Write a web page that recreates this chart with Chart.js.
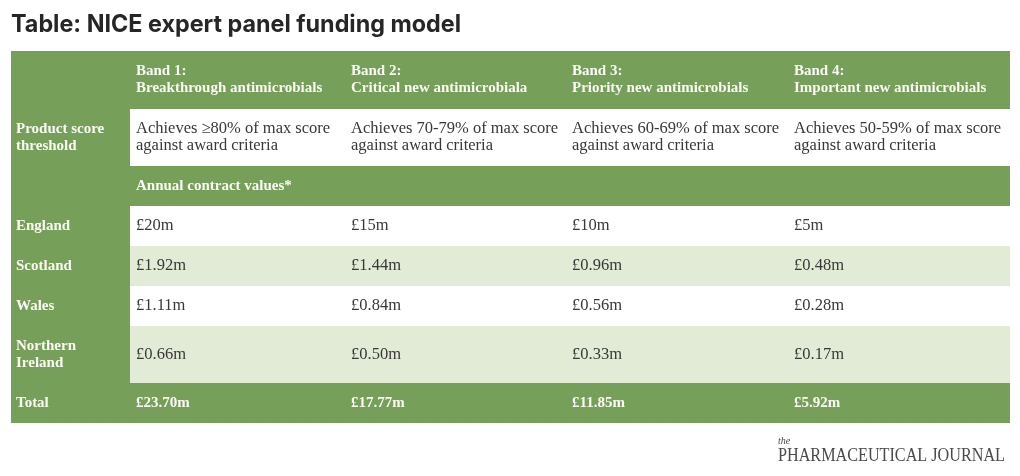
<!DOCTYPE html>
<html>
<head>
<meta charset="utf-8">
<title>NICE expert panel funding model</title>
<script src="https://cdn.jsdelivr.net/npm/chart.js@4.4.1/dist/chart.umd.min.js"></script>
<style>
  html, body { margin: 0; padding: 0; background: #fff; }
  canvas { display: block; }
</style>
</head>
<body>
<canvas id="tableChart" width="1020" height="476"></canvas>
<script>
// --- data ---
const title = 'Table: NICE expert panel funding model';
const bandLabels = ['Band 1:', 'Band 2:', 'Band 3:', 'Band 4:'];
const bandNames = ['Breakthrough antimicrobials', 'Critical new antimicrobiala', 'Priority new antimicrobials', 'Important new antimicrobials'];
const thresholds = ['≥80%', '70-79%', '60-69%', '50-59%'];
const nations = ['England', 'Scotland', 'Wales', 'Northern Ireland'];
const england = [20, 15, 10, 5];
const scotland = [1.92, 1.44, 0.96, 0.48];
const wales = [1.11, 0.84, 0.56, 0.28];
const northernIreland = [0.66, 0.50, 0.33, 0.17];
const totals = [23.70, 17.77, 11.85, 5.92];

// --- layout (table units, mapped through the chart scales) ---
const colWidths = [119, 215, 221, 222, 222];
const rowHeights = [58, 57, 40, 40, 40, 40, 57, 40];

const GREEN = '#76a05a';
const LIGHT = '#e1ebd6';
const TEXT = '#383838';
const HEAD_FONT = 'bold 15px "Liberation Serif", serif';
const BODY_FONT = '16.5px "Liberation Serif", serif';
const LINE = 17;

const money = v => '£' + (Number.isInteger(v) ? v : v.toFixed(2)) + 'm';

const nationValues = [england, scotland, wales, northernIreland];

// rows: label column text, cell texts, fill, whether cells are bold/white
const rows = [
    { label: [], cells: bandLabels.map((b, i) => [b, bandNames[i]]), fill: GREEN, head: true },
    { label: ['Product score', 'threshold'], cells: thresholds.map(t => ['Achieves ' + t + ' of max score', 'against award criteria']), fill: '#fff' },
    { label: [], cells: [['Annual contract values*'], [], [], []], fill: GREEN, head: true },
    ...nations.map((n, i) => ({
        label: n === 'Northern Ireland' ? ['Northern', 'Ireland'] : [n],
        cells: nationValues[i].map(v => [money(v)]),
        fill: i % 2 ? LIGHT : '#fff'
    })),
    { label: ['Total'], cells: totals.map(v => [money(v)]), fill: GREEN, head: true }
];

function cumulative(arr) {
    const out = [0];
    arr.forEach(v => out.push(out[out.length - 1] + v));
    return out;
}

const tablePlugin = {
    id: 'tableCells',
    afterDraw(chart) {
        const { ctx, scales: { x, y } } = chart;
        const colEdges = cumulative(colWidths).map(v => Math.round(x.getPixelForValue(v)));
        const rowEdges = cumulative(rowHeights).map(v => Math.round(y.getPixelForValue(v)));

        ctx.save();
        ctx.textBaseline = 'middle';
        ctx.textAlign = 'left';

        rows.forEach((row, r) => {
            const top = rowEdges[r], bottom = rowEdges[r + 1];
            const mid = (top + bottom) / 2;

            // row background, then the green label column on top
            ctx.fillStyle = row.fill;
            ctx.fillRect(colEdges[0], top, colEdges[5] - colEdges[0], bottom - top);
            ctx.fillStyle = GREEN;
            ctx.fillRect(colEdges[0], top, colEdges[1] - colEdges[0], bottom - top);

            const drawLines = (lines, x0, font, color) => {
                ctx.font = font;
                ctx.fillStyle = color;
                const start = mid - (lines.length - 1) * LINE / 2;
                lines.forEach((t, k) => ctx.fillText(t, x0, start + k * LINE));
            };

            drawLines(row.label, colEdges[0] + 5, HEAD_FONT, '#fbfaf5');
            row.cells.forEach((lines, c) => {
                drawLines(lines, colEdges[c + 1] + 6,
                    row.head ? HEAD_FONT : BODY_FONT,
                    row.head ? '#fbfaf5' : TEXT);
            });
        });

        // title
        ctx.textBaseline = 'alphabetic';
        ctx.font = 'bold 24px Inter, sans-serif';
        ctx.fillStyle = '#262626';
        ctx.fillText(title, 11, 32, 450);

        // logo
        ctx.fillStyle = '#4a4a4a';
        ctx.font = 'italic 10px "Liberation Serif", serif';
        ctx.fillText('the', 778, 444);
        ctx.font = '18px "Liberation Serif", serif';
        ctx.fillText('PHARMACEUTICAL JOURNAL', 778, 461, 227);
        ctx.restore();
    }
};

new Chart(document.getElementById('tableChart'), {
    type: 'bar',
    data: { labels: [], datasets: [] },
    options: {
        responsive: false,
        animation: false,
        layout: { padding: { left: 11, right: 10, top: 51, bottom: 53 } },
        plugins: { legend: { display: false }, tooltip: { enabled: false } },
        scales: {
            x: { type: 'linear', offset: false, min: 0, max: colWidths.reduce((a, b) => a + b), display: false },
            y: { type: 'linear', offset: false, min: 0, max: rowHeights.reduce((a, b) => a + b), reverse: true, display: false }
        }
    },
    plugins: [tablePlugin]
});
</script>
</body>
</html>
